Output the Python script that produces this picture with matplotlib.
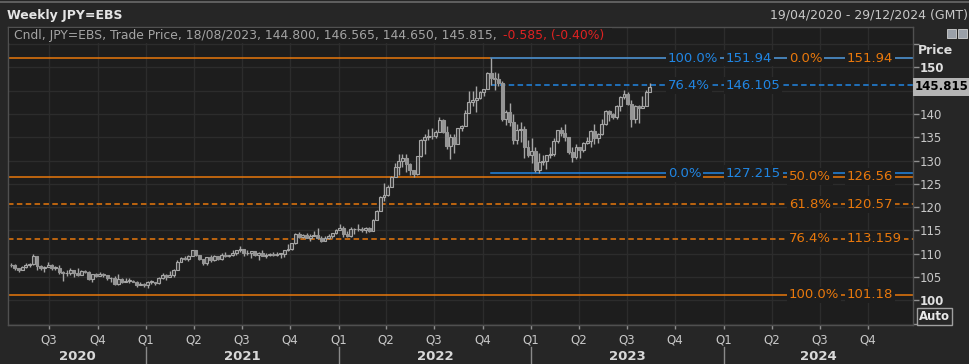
import matplotlib
matplotlib.use('Agg')
import matplotlib.pyplot as plt
import matplotlib.dates as mdates
import matplotlib.transforms as mtransforms
from matplotlib.patches import Rectangle
from matplotlib.lines import Line2D
import numpy as np
import pandas as pd

# ---------------- data ----------------
first_week = '2020-04-20'          # Monday of first weekly candle
first_open = 107.55
closes = [
    107.5, 106.9, 106.6, 107.1, 107.6, 107.8, 109.6, 107.4, 106.9, 107.2,
    107.5, 106.9, 107.0, 106.1, 105.8, 105.9, 106.6, 105.8, 105.4, 106.2,
    106.1, 104.6, 105.6, 105.3, 105.6, 105.4, 104.7, 104.7, 103.4, 104.6,
    103.9, 104.1, 104.2, 104.0, 103.3, 103.6, 103.2,
    103.9, 103.9, 103.8, 104.7, 105.4, 104.9, 105.4, 106.6, 108.3, 109.0,
    108.9, 109.6, 110.7, 109.7, 108.8, 107.9, 109.3, 108.6, 109.4, 108.9,
    109.8, 109.5, 109.7, 110.2, 110.8, 111.1, 110.1, 110.1, 110.6, 109.7,
    110.2, 109.6, 109.8, 109.8, 109.7, 109.9, 110.0, 110.7, 111.0, 112.2,
    114.2, 113.5, 114.0, 113.4, 113.9, 114.0, 113.4, 112.8, 113.4, 113.7,
    114.4, 115.1,
    115.6, 114.2, 113.7, 115.2, 115.2, 115.4, 115.0, 115.6, 114.8, 117.3,
    119.2, 122.1, 122.5, 124.3, 126.4, 128.5, 129.8, 130.6, 129.2, 127.9,
    127.1, 130.9, 134.4, 135.0, 135.2, 135.2, 136.1, 138.6, 136.1, 133.2,
    135.0, 133.5, 136.9, 137.5, 140.2, 142.6, 143.0, 143.4, 144.7, 145.3,
    148.7, 147.7, 147.5, 146.6, 138.8, 140.4, 138.3, 134.3, 136.6, 136.7,
    132.9, 131.1,
    132.1, 127.9, 129.6, 129.9, 131.2, 131.4, 134.2, 136.5, 135.9, 135.0,
    131.8, 130.7, 132.8, 132.2, 133.8, 134.2, 136.3, 134.8, 135.7, 137.9,
    140.6, 139.9, 139.4, 141.8, 143.7, 144.3, 142.1, 138.8, 141.8, 141.2,
    141.8, 144.8, 145.815,
]
highs = [
    108.1, 107.8, 107.0, 107.3, 108.1, 108.0, 109.85, 109.6, 107.6, 107.4,
    108.2, 107.8, 107.4, 107.5, 106.2, 106.5, 107.0, 106.6, 107.0, 106.5,
    106.4, 106.2, 105.7, 105.8, 106.1, 105.8, 105.5, 104.9, 105.3, 105.7,
    104.8, 104.8, 104.8, 104.4, 104.1, 103.9, 103.8,
    104.1, 104.4, 104.0, 104.9, 105.8, 105.7, 106.2, 106.7, 108.6, 109.2,
    109.4, 109.8, 110.9, 110.5, 109.7, 108.9, 109.3, 109.7, 109.8, 109.3,
    110.2, 110.3, 109.8, 110.8, 110.9, 111.7, 111.1, 110.7, 110.6, 110.6,
    110.4, 110.8, 110.2, 110.2, 110.4, 110.4, 110.0, 110.8, 112.1, 112.3,
    114.5, 114.7, 114.3, 114.4, 114.3, 114.9, 115.5, 113.9, 113.9, 114.2,
    114.5, 115.2,
    116.4, 116.0, 114.9, 115.7, 115.5, 116.3, 115.8, 115.8, 115.8, 117.4,
    119.4, 122.4, 125.1, 124.7, 126.7, 129.4, 131.3, 131.3, 131.3, 129.4,
    128.0, 131.0, 134.6, 135.6, 136.7, 137.0, 136.6, 139.4, 138.9, 137.5,
    135.6, 135.6, 137.0, 137.7, 140.8, 145.0, 144.9, 145.9, 144.9, 145.4,
    148.9, 151.94, 148.9, 148.8, 147.0, 140.8, 142.3, 139.9, 137.9, 138.2,
    137.5, 134.4,
    134.8, 132.9, 131.6, 131.1, 131.2, 132.9, 134.9, 136.5, 137.1, 137.9,
    135.1, 133.0, 133.5, 133.0, 134.0, 135.1, 136.6, 137.8, 136.0, 138.8,
    140.9, 140.9, 140.2, 141.9, 143.9, 145.1, 144.7, 142.9, 142.0, 141.9,
    143.9, 145.2, 146.565,
]
lows = [
    107.2, 106.4, 106.0, 106.5, 107.0, 107.1, 107.6, 106.6, 106.6, 106.1,
    107.2, 106.6, 106.6, 105.7, 104.2, 105.3, 105.5, 105.1, 105.2, 105.6,
    105.9, 104.3, 104.0, 105.0, 105.2, 104.9, 104.3, 104.0, 103.2, 103.2,
    103.7, 103.9, 103.7, 103.9, 102.9, 103.2, 102.9,
    102.6, 103.5, 103.3, 103.5, 104.6, 104.4, 104.9, 105.0, 106.6, 108.3,
    108.6, 108.4, 109.6, 109.5, 108.6, 107.5, 107.5, 108.3, 108.4, 108.6,
    108.6, 109.3, 109.2, 109.6, 109.7, 110.4, 109.5, 109.7, 109.1, 109.4,
    108.7, 109.5, 109.1, 109.5, 109.6, 109.6, 109.1, 109.2, 110.6, 110.8,
    112.0, 113.4, 113.3, 113.3, 112.7, 113.8, 113.1, 112.5, 113.1, 113.1,
    113.4, 114.3,
    115.0, 113.5, 113.6, 113.5, 114.2, 114.9, 114.7, 114.4, 114.6, 114.8,
    117.2, 119.1, 121.3, 122.4, 124.3, 126.4, 126.9, 128.6, 127.5, 126.9,
    126.4, 126.9, 130.7, 131.5, 134.3, 134.7, 134.8, 136.1, 136.0, 132.5,
    130.4, 131.7, 133.5, 136.4, 137.5, 140.3, 141.7, 140.4, 143.3, 143.9,
    145.3, 146.2, 145.1, 145.9, 138.5, 137.7, 137.5, 133.6, 133.6, 134.0,
    130.6, 130.8,
    129.5, 127.5, 127.215, 129.0, 128.1, 130.5, 130.9, 133.8, 135.3, 134.1,
    131.5, 129.6, 130.4, 130.6, 131.8, 133.5, 133.0, 133.5, 133.7, 135.4,
    137.6, 138.4, 138.8, 138.8, 140.7, 143.2, 142.0, 137.2, 138.0, 138.1,
    141.5, 141.6, 144.65,
]

orange_pcts = ['0.0%', '50.0%', '61.8%', '76.4%', '100.0%']
orange_vals = [151.94, 126.56, 120.57, 113.159, 101.18]
orange_texts = ['151.94', '126.56', '120.57', '113.159', '101.18']
orange_dashed = [False, False, True, True, False]

blue_pcts = ['100.0%', '76.4%', '0.0%']
blue_vals = [151.94, 146.105, 127.215]
blue_texts = ['151.94', '146.105', '127.215']
blue_dashed = [False, True, False]
blue_start = '2022-10-17'

quarter_ticks = ['2020-07-01', '2020-10-01', '2021-01-01', '2021-04-01', '2021-07-01',
                 '2021-10-01', '2022-01-01', '2022-04-01', '2022-07-01', '2022-10-01',
                 '2023-01-01', '2023-04-01', '2023-07-01', '2023-10-01', '2024-01-01',
                 '2024-04-01', '2024-07-01', '2024-10-01']
quarter_labels = ['Q3', 'Q4', 'Q1', 'Q2', 'Q3', 'Q4', 'Q1', 'Q2', 'Q3', 'Q4',
                  'Q1', 'Q2', 'Q3', 'Q4', 'Q1', 'Q2', 'Q3', 'Q4']
years = ['2020', '2021', '2022', '2023', '2024']
x_start, x_end = '2020-04-14', '2024-12-25'

price_ticks = [95, 100, 105, 110, 115, 120, 125, 130, 135, 140, 145, 150, 155]
hidden_ticks = [95, 145, 155]     # 145 sits under the last-price box
last_price = 145.815

title = 'Weekly JPY=EBS'
range_text = '19/04/2020 - 29/12/2024 (GMT)'
info_text = 'Cndl, JPY=EBS, Trade Price, 18/08/2023, 144.800, 146.565, 144.650, 145.815,'
change_text = '-0.585, (-0.40%)'

# ---------------- style ----------------
W, H = 970, 364
FIG_BG = '#262626'
AX_BG = '#1d1d1d'
GRID = '#2c2c2c'
ORANGE = '#e8780c'
BLUE = '#2186e3'
CANDLE = '#a6a6a6'
TXT = '#c8c8c8'

def fx(px):
    return px / W

def fy(py):
    return 1 - py / H

fig = plt.figure(figsize=(W / 100, H / 100), dpi=100, facecolor=FIG_BG)
ax = fig.add_axes([fx(8), fy(325), (913 - 8) / W, (325 - 27) / H])
ax.set_facecolor(AX_BG)

dates = pd.date_range(first_week, periods=len(closes), freq='7D')
xd = mdates.date2num(dates.to_pydatetime())
c = np.array(closes)
h = np.array(highs)
l = np.array(lows)
o = np.concatenate([[first_open], c[:-1]])

ax.set_xlim(mdates.date2num(pd.Timestamp(x_start)), mdates.date2num(pd.Timestamp(x_end)))
ax.set_ylim(94.7, 158.65)

# grid
qx = mdates.date2num(pd.to_datetime(quarter_ticks).to_pydatetime())
for q in qx:
    ax.axvline(q, color=GRID, lw=1, zorder=0.5)
for p in price_ticks:
    ax.axhline(p, color=GRID, lw=1, zorder=0.5)

# fib lines
xl0, xl1 = ax.get_xlim()
for v, d in zip(orange_vals, orange_dashed):
    ax.plot([xl0, xl1], [v, v], color=ORANGE, lw=1.1,
            linestyle=(0, (3.6, 2.2)) if d else '-', zorder=2)
bx0 = mdates.date2num(pd.Timestamp(blue_start))
for v, d in zip(blue_vals, blue_dashed):
    ax.plot([bx0, xl1], [v, v], color=BLUE, lw=1.1,
            linestyle=(0, (3.6, 2.2)) if d else '-', zorder=2.5)

# candles
body_w = 5.5
ax.vlines(xd, l, h, color=CANDLE, lw=1.0, zorder=3)
up = c >= o
bottoms = np.minimum(o, c)
heights = np.maximum(np.abs(c - o), 0.15)
ax.bar(xd[up], heights[up], bottom=bottoms[up], width=body_w, facecolor='#3a3a3a',
       edgecolor=CANDLE, linewidth=0.8, zorder=4)
ax.bar(xd[~up], heights[~up], bottom=bottoms[~up], width=body_w, facecolor='#959595',
       edgecolor='#959595', linewidth=0.8, zorder=4)

# fib labels
def axx(px):
    return (px - 8) / 905

blend = mtransforms.blended_transform_factory(ax.transAxes, ax.transData)
lab_box = dict(facecolor=AX_BG, edgecolor='none', pad=1.2)
for pct, v, t in zip(orange_pcts, orange_vals, orange_texts):
    ax.text(axx(789), v, pct, transform=blend, color=ORANGE, fontsize=9.5,
            va='center', ha='left', bbox=lab_box, zorder=6)
    ax.text(axx(847), v, t, transform=blend, color=ORANGE, fontsize=9.5,
            va='center', ha='left', bbox=lab_box, zorder=6)
for pct, v, t in zip(blue_pcts, blue_vals, blue_texts):
    ax.text(axx(668), v, pct, transform=blend, color=BLUE, fontsize=9.5,
            va='center', ha='left', bbox=lab_box, zorder=6)
    ax.text(axx(726), v, t, transform=blend, color=BLUE, fontsize=9.5,
            va='center', ha='left', bbox=lab_box, zorder=6)

# axes styling
for s in ax.spines.values():
    s.set_color('#505050')
    s.set_linewidth(1)
ax.yaxis.tick_right()
ax.set_yticks(price_ticks)
ylabels = ['' if p in hidden_ticks else str(p) for p in price_ticks]
ax.set_yticklabels(ylabels)
ax.tick_params(axis='y', length=4, width=1, color='#909090', labelcolor=TXT,
               labelsize=8.5, pad=1)
for lab, p in zip(ax.get_yticklabels(), price_ticks):
    if p in (100, 150):
        lab.set_fontweight('bold')
        lab.set_color('#e0e0e0')

ax.set_xticks(qx)
ax.set_xticklabels(quarter_labels)
ax.tick_params(axis='x', length=3, width=1, color='#909090', labelcolor=TXT,
               labelsize=8.5, pad=3)

# year labels and separators
xb = mtransforms.blended_transform_factory(ax.transData, fig.transFigure)
ybounds = [xl0] + [mdates.date2num(pd.Timestamp(f'{y}-01-01')) for y in years[1:]] + [xl1]
for i, y in enumerate(years):
    ax.text((ybounds[i] + ybounds[i + 1]) / 2, fy(356), y, transform=xb,
            color='#d8d8d8', fontsize=9.5, fontweight='bold', ha='center', va='center',
            clip_on=False)
for b in ybounds[1:-1]:
    fig.add_artist(Line2D([b, b], [fy(347), fy(364)], transform=xb, color='#8a8a8a', lw=1))

# last price box
ax.text(1.0 + 2 / 905, last_price, f'{last_price:.3f}', transform=blend, color='#000000',
        fontsize=8.5, fontweight='bold', va='center', ha='left',
        bbox=dict(facecolor='#b4b4b4', edgecolor='none', pad=1.8), zorder=10, clip_on=False)

# header
fig.add_artist(Line2D([0, 1], [fy(1.5), fy(1.5)], color='#6a6a6a', lw=1.2))
fig.text(fx(7), fy(15), title, color='#e4e4e4', fontsize=9, fontweight='bold',
         va='center', ha='left')
fig.text(fx(968), fy(15), range_text, color=TXT, fontsize=9, va='center', ha='right')

fig.add_artist(Rectangle((fx(9), fy(43)), (612 - 9) / W, (43 - 28) / H,
                         transform=fig.transFigure, facecolor=AX_BG, edgecolor='none',
                         zorder=1))
t1 = fig.text(fx(14), fy(36), info_text, color='#a4a4a4', fontsize=8.9,
              va='center', ha='left', zorder=2)
renderer = fig.canvas.get_renderer()
bb = t1.get_window_extent(renderer)
fig.text(bb.x1 / W + 6 / W, fy(36), change_text, color='#e02222', fontsize=8.9,
         va='center', ha='left', zorder=2)

fig.text(fx(918), fy(50), 'Price', color='#dcdcdc', fontsize=9, fontweight='bold',
         va='center', ha='left')
fig.text(fx(919), fy(316.5), 'Auto', color='#e8e8e8', fontsize=8.5, fontweight='bold',
         va='center', ha='left',
         bbox=dict(facecolor=FIG_BG, edgecolor='#a0a0a0', pad=1.2, linewidth=1))

# small toolbar icons
for x0 in (947, 958):
    fig.add_artist(Rectangle((fx(x0), fy(38)), 9 / W, 9 / H, transform=fig.transFigure,
                             facecolor='#9aa0a8', edgecolor='#d0d0d0', lw=0.6))

fig.savefig('out.png', dpi=100, facecolor=FIG_BG)
